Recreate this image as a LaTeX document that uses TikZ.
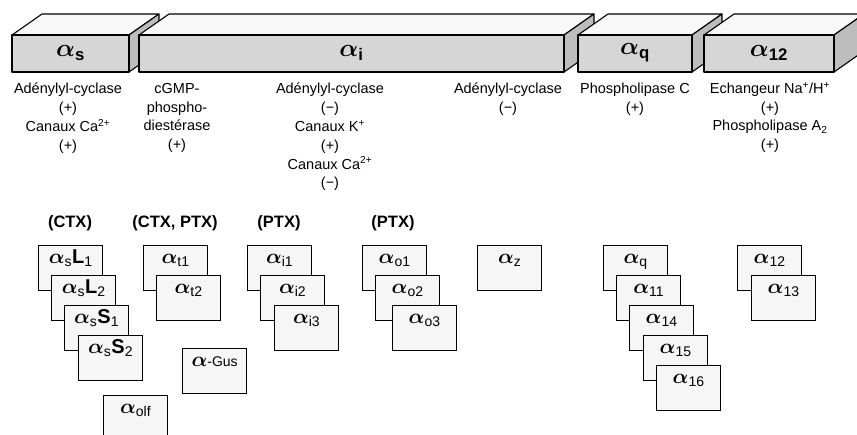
\documentclass[tikz,border=0pt]{standalone}
\usepackage{fontspec}
\setmainfont{Liberation Sans}
\usepackage{amsmath}
\usepackage{bm}
\definecolor{topgray}{HTML}{F8F8F8}
\definecolor{frontgray}{HTML}{D6D6D6}
\definecolor{sidegray}{HTML}{BDBDBD}
\definecolor{boxgray}{HTML}{F6F6F6}
\newcommand\alp{$\bm{\alpha}$}
\tikzset{
  face/.style={draw=black, line width=1.1pt, line join=round},
  barlabel/.style={inner sep=0pt, font=\fontsize{24}{24}\selectfont},
  efftext/.style={anchor=north, align=center, inner sep=0pt, font=\fontsize{14.5}{18.8}\selectfont},
  toxin/.style={inner sep=0pt, font=\bfseries\fontsize{16.5}{16.5}\selectfont},
  gbox/.style={draw=black, line width=1.3pt, fill=boxgray, anchor=north west,
    minimum width=64pt, minimum height=45pt, inner sep=0pt,
    text height=18pt, text depth=27pt, font=\fontsize{20}{20}\selectfont}
}
% one block of the bar: name, left, right, label
\newcommand\gprism[4]{%
  \fill[topgray] (#2,35) -- (#2+30,14) -- (#3+30,14) -- (#3,35) -- cycle;
  \draw[face] (#2,35) -- (#2+30,14) -- (#3+30,14) -- (#3,35) -- cycle;
  \fill[sidegray] (#3,35) -- (#3+30,14) -- (#3+30,51) -- (#3,72) -- cycle;
  \draw[face] (#3,35) -- (#3+30,14) -- (#3+30,51) -- (#3,72) -- cycle;
  \fill[frontgray] (#2,35) rectangle (#3,72);
  \draw[face] (#2,35) rectangle (#3,72);
  \node[barlabel] (#1) at ({(#2+#3)/2},53) {#4};
}

\begin{document}
\begin{tikzpicture}[x=1pt, y=-1pt]
   \useasboundingbox (0,0) rectangle (857,434);
   \clip (0,0) rectangle (857,434);

   % the families
   \gprism{Gs}{12}{129}{$\bm{\alpha}_{\text{\bfseries s}}$}
   \gprism{Gi}{139}{564}{$\bm{\alpha}_{\text{\bfseries i}}$}
   \gprism{Gq}{578}{692}{$\bm{\alpha}_{\text{\bfseries q}}$}
   \gprism{G12}{704}{834}{$\bm{\alpha}_{\text{\bfseries 12}}$}

   % effectors
   \node[efftext] (sEff) at (68,83) {Adénylyl-cyclase\\(+)\\Canaux Ca\textsuperscript{2+}\\(+)};
   \node[efftext] (pde) at (177,83) {cGMP-\\phospho-\\diestérase\\(+)};
   \node[efftext] (iEff) at (330,83) {Adénylyl-cyclase\\(−)\\Canaux K\textsuperscript{+}\\(+)\\Canaux Ca\textsuperscript{2+}\\(−)};
   \node[efftext] (zEff) at (508,83) {Adénylyl-cyclase\\(−)};
   \node[efftext] (qEff) at (635,83) {Phospholipase C\\(+)};
   \node[efftext] (e12Eff) at (770,82) {Echangeur Na\textsuperscript{+}/H\textsuperscript{+}\\(+)\\Phospholipase A\textsubscript{2}\\(+)};

   % toxins
   \node[toxin] (ctx) at (70,223) {(CTX)};
   \node[toxin] (ctxptx) at (175,223) {(CTX, PTX)};
   \node[toxin] (ptxi) at (279,223) {(PTX)};
   \node[toxin] (ptxo) at (393,223) {(PTX)};

   % subunits
   \node[gbox] (sL1) at (38,245) {\alp$_{\text{s}}$\textbf{L}$_{\text{1}}$};
   \node[gbox] (sL2) at (51,275) {\alp$_{\text{s}}$\textbf{L}$_{\text{2}}$};
   \node[gbox] (sS1) at (64,305) {\alp$_{\text{s}}$\textbf{S}$_{\text{1}}$};
   \node[gbox] (sS2) at (78,335) {\alp$_{\text{s}}$\textbf{S}$_{\text{2}}$};

   \node[gbox] (t1) at (143,245) {\alp$_{\text{t1}}$};
   \node[gbox] (t2) at (156,275) {\alp$_{\text{t2}}$};
   \node[gbox] (gus) at (182,348) {\alp{\fontsize{14}{14}\selectfont-Gus}};
   \node[gbox] (olf) at (103,395) {\alp$_{\text{olf}}$};

   \node[gbox] (i1) at (247,245) {\alp$_{\text{i1}}$};
   \node[gbox] (i2) at (260,275) {\alp$_{\text{i2}}$};
   \node[gbox] (i3) at (274,305) {\alp$_{\text{i3}}$};

   \node[gbox] (o1) at (362,245) {\alp$_{\text{o1}}$};
   \node[gbox] (o2) at (375,275) {\alp$_{\text{o2}}$};
   \node[gbox] (o3) at (392,305) {\alp$_{\text{o3}}$};

   \node[gbox] (z) at (477,245) {\alp$_{\text{z}}$};

   \node[gbox] (q) at (603,245) {\alp$_{\text{q}}$};
   \node[gbox] (a11) at (616,275) {\alp$_{\text{11}}$};
   \node[gbox] (a14) at (629,305) {\alp$_{\text{14}}$};
   \node[gbox] (a15) at (643,335) {\alp$_{\text{15}}$};
   \node[gbox] (a16) at (656,365) {\alp$_{\text{16}}$};

   \node[gbox] (a12) at (737,245) {\alp$_{\text{12}}$};
   \node[gbox] (a13) at (751,275) {\alp$_{\text{13}}$};
\end{tikzpicture}
\end{document}
